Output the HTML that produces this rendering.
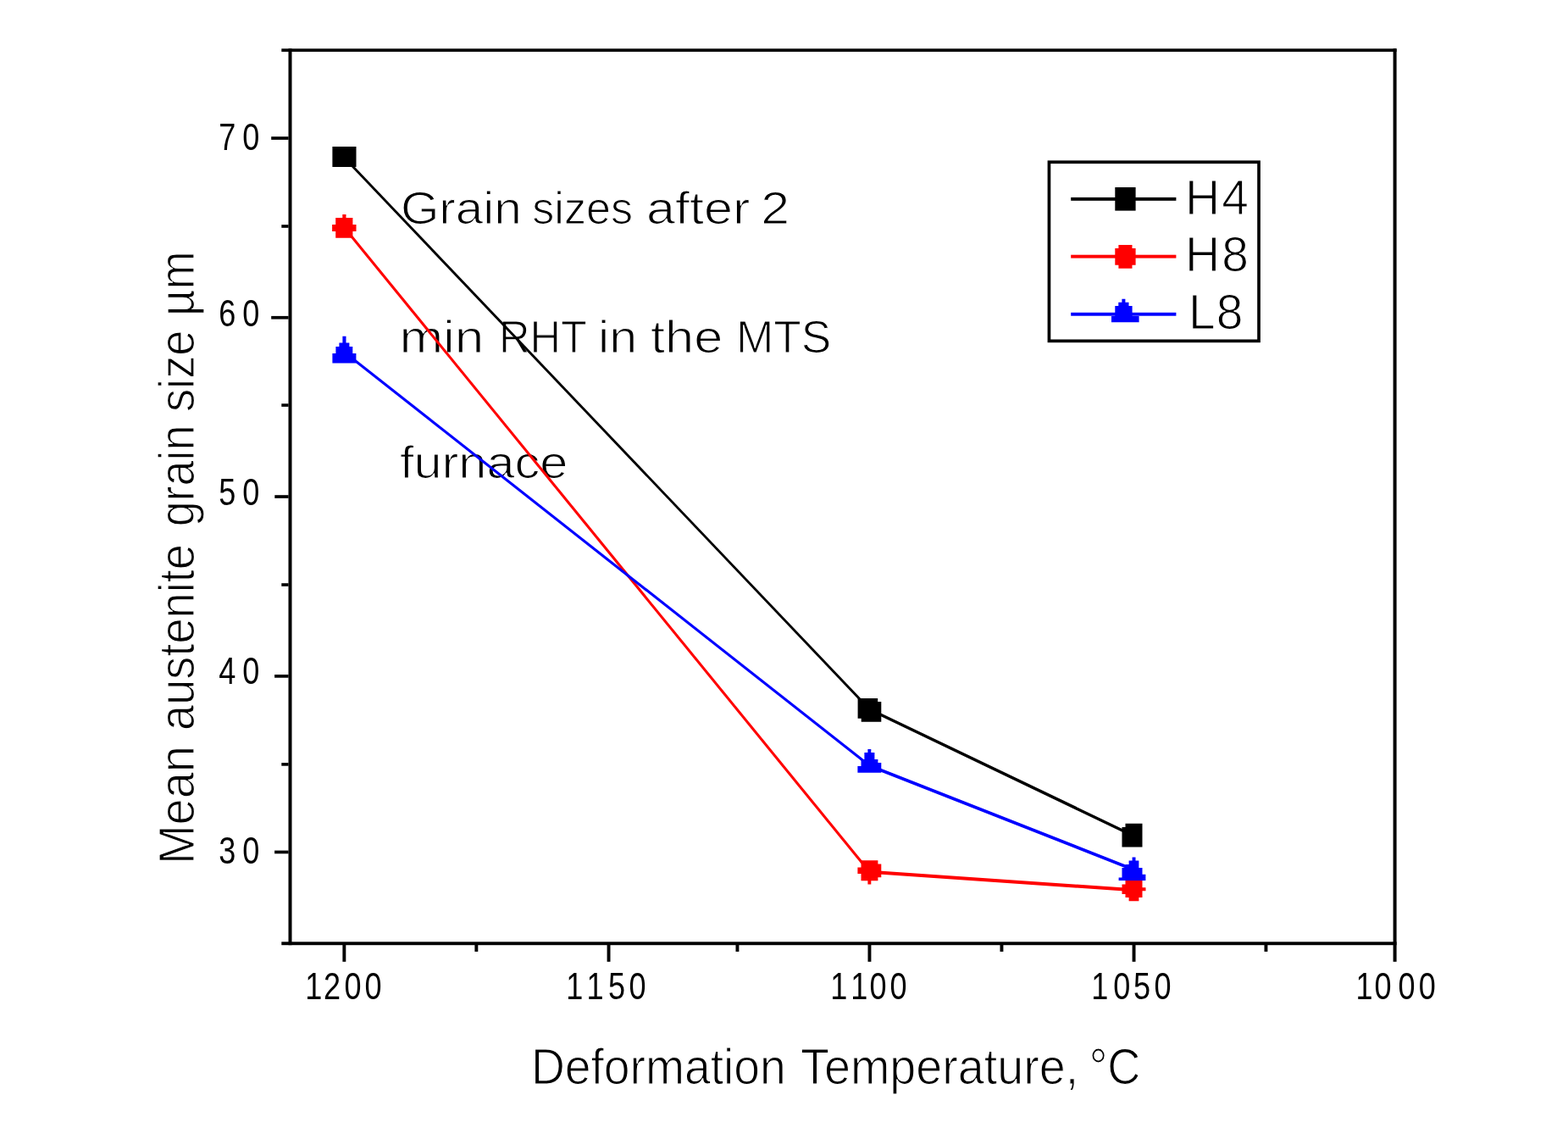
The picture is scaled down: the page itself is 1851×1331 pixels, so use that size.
<!DOCTYPE html>
<html><head><meta charset="utf-8"><title>Mean austenite grain size vs deformation temperature</title>
<style>html,body{margin:0;padding:0;background:#fff;overflow:hidden;}svg{display:block;}</style>
</head><body>
<svg width="1851" height="1331" viewBox="0 0 1851 1331" font-family='"Liberation Sans", Arial, sans-serif' fill="#000">
<rect x="340.5" y="57.4" width="4.0" height="1057.8" fill="#000"/>
<rect x="1644.6" y="57.4" width="4.0" height="1077.4" fill="#000"/>
<rect x="332.3" y="57.4" width="1316.3" height="3.7" fill="#000"/>
<rect x="332.3" y="1111.3" width="1316.3" height="3.9" fill="#000"/>
<rect x="320.2" y="161.2" width="20.4" height="3.7" fill="#000"/>
<rect x="320.2" y="372.9" width="20.4" height="3.7" fill="#000"/>
<rect x="324.3" y="584.2" width="16.3" height="3.7" fill="#000"/>
<rect x="324.1" y="796.0" width="16.5" height="3.7" fill="#000"/>
<rect x="324.1" y="1003.6" width="16.5" height="3.7" fill="#000"/>
<rect x="332.3" y="265.2" width="8.3" height="3.6" fill="#000"/>
<rect x="332.3" y="476.3" width="8.3" height="3.6" fill="#000"/>
<rect x="332.3" y="688.2" width="8.3" height="3.6" fill="#000"/>
<rect x="332.3" y="900.1" width="8.3" height="3.6" fill="#000"/>
<rect x="404.4" y="1115.0" width="3.9" height="19.8" fill="#000"/>
<rect x="716.6" y="1115.0" width="3.9" height="19.8" fill="#000"/>
<rect x="1024.5" y="1115.0" width="3.9" height="19.8" fill="#000"/>
<rect x="1336.6" y="1115.0" width="3.9" height="19.8" fill="#000"/>
<rect x="560.4" y="1115.0" width="3.9" height="7.9" fill="#000"/>
<rect x="868.5" y="1115.0" width="3.9" height="7.9" fill="#000"/>
<rect x="1180.5" y="1115.0" width="3.9" height="7.9" fill="#000"/>
<rect x="1492.5" y="1115.0" width="3.9" height="7.9" fill="#000"/>
<g stroke="#fff" stroke-width="1.2">
<text x="472.9" y="263.5" font-size="54" textLength="142.95" lengthAdjust="spacingAndGlyphs">Grain</text>
<text x="628.3" y="263.5" font-size="54" textLength="118.69" lengthAdjust="spacingAndGlyphs">sizes</text>
<text x="762.9" y="263.5" font-size="54" textLength="122.37" lengthAdjust="spacingAndGlyphs">after</text>
<text x="898.3" y="263.5" font-size="54" textLength="33.8" lengthAdjust="spacingAndGlyphs">2</text>
<text x="471.4" y="415.5" font-size="54" textLength="99.96" lengthAdjust="spacingAndGlyphs">min</text>
<text x="589.0" y="415.5" font-size="54" textLength="103.86" lengthAdjust="spacingAndGlyphs">RHT</text>
<text x="706.1" y="415.5" font-size="54" textLength="46.0" lengthAdjust="spacingAndGlyphs">in</text>
<text x="768.1" y="415.5" font-size="54" textLength="85.19" lengthAdjust="spacingAndGlyphs">the</text>
<text x="868.9" y="415.5" font-size="54" textLength="112.42" lengthAdjust="spacingAndGlyphs">MTS</text>
<text x="471.9" y="563.8" font-size="54" textLength="198.44" lengthAdjust="spacingAndGlyphs">furnace</text>
</g>
<line x1="406.5" y1="186.0" x2="1026.5" y2="837.0" stroke="#000" stroke-width="2.86"/><line x1="1026.5" y1="837.0" x2="1336.6" y2="985.5" stroke="#000" stroke-width="3.56"/>
<line x1="406.4" y1="268.5" x2="1026.4" y2="1028.8" stroke="#f00" stroke-width="3.06"/><line x1="1026.4" y1="1028.8" x2="1338.6" y2="1050.3" stroke="#f00" stroke-width="3.94"/>
<line x1="406.4" y1="415.5" x2="1026.5" y2="903.5" stroke="#00f" stroke-width="3.10"/><line x1="1026.5" y1="903.5" x2="1336.6" y2="1025.5" stroke="#00f" stroke-width="3.68"/>
<path d="M392.4 173.1H420.5V196.9H392.4ZM1012.6 824.1H1036.2V847.7H1012.6ZM1016.7 828.1H1040.3V851.7H1016.7ZM1328.5 971.8H1348.5V999.4H1328.5ZM1324.5 975.9H1348.5V999.4H1324.5Z" fill="#000"/>
<path d="M404.3 252.9H408.5V257.1H404.3ZM396.2 257.0H416.4V265.2H396.2ZM392.1 265.1H420.5V273.0H392.1ZM396.2 272.9H416.4V280.8H396.2ZM1016.5 1015.3H1036.4V1019.6H1016.5ZM1016.5 1019.5H1040.3V1023.7H1016.5ZM1012.4 1023.6H1040.3V1031.1H1012.4ZM1016.5 1031.0H1040.3V1035.2H1016.5ZM1016.5 1035.1H1036.4V1039.2H1016.5ZM1024.4 1039.1H1028.3V1043.4H1024.4ZM1328.5 1039.1H1348.5V1043.6H1328.5ZM1324.5 1043.5H1348.5V1047.4H1324.5ZM1324.5 1047.3H1352.5V1051.3H1324.5ZM1324.5 1051.2H1348.5V1055.0H1324.5ZM1328.5 1054.9H1348.5V1058.9H1328.5ZM1332.6 1058.8H1344.4V1063.2H1332.6Z" fill="#f00"/>
<path d="M404.4 396.8H408.5V404.7H404.4ZM400.4 404.6H412.4V409.0H400.4ZM396.4 408.9H416.3V417.1H396.4ZM392.4 417.0H420.4V428.6H392.4ZM1024.4 884.0H1028.3V888.1H1024.4ZM1020.4 888.0H1032.4V896.1H1020.4ZM1016.5 896.0H1036.4V900.1H1016.5ZM1016.5 900.0H1040.3V904.2H1016.5ZM1012.4 904.1H1040.3V911.7H1012.4ZM1336.6 1011.6H1340.5V1015.7H1336.6ZM1332.6 1015.6H1344.4V1020.0H1332.6ZM1328.5 1019.9H1344.4V1024.0H1328.5ZM1324.5 1023.9H1348.5V1031.8H1324.5ZM1324.5 1031.7H1352.4V1035.5H1324.5ZM1320.6 1035.4H1352.4V1039.1H1320.6Z" fill="#00f"/>
<rect x="1238.45" y="191.25" width="247.6" height="211.1" fill="none" stroke="#000" stroke-width="3.7"/>
<rect x="1264.2" y="232.9" width="124.2" height="3.9" fill="#000"/>
<rect x="1264.2" y="300.7" width="124.2" height="3.9" fill="#f00"/>
<rect x="1264.2" y="368.8" width="124.2" height="3.9" fill="#00f"/>
<rect x="1316.3" y="221.0" width="24.3" height="27.6" fill="#000"/>
<path d="M1320.4 289.1H1336.5V293.2H1320.4ZM1316.3 293.1H1340.6V312.7H1316.3ZM1320.4 312.6H1336.5V316.8H1320.4Z" fill="#f00"/>
<path d="M1324.4 352.7H1328.4V356.8H1324.4ZM1320.3 356.7H1332.5V361.0H1320.3ZM1316.3 360.9H1336.6V373.0H1316.3ZM1312.0 372.9H1344.6V380.3H1312.0Z" fill="#00f"/>
<g stroke="#fff" stroke-width="1.2">
<text x="1399.0" y="252.5" font-size="57" letter-spacing="2">H4</text>
<text x="1399.0" y="320.3" font-size="57" letter-spacing="2">H8</text>
<text x="1403.0" y="388.3" font-size="57" letter-spacing="1">L8</text>
</g>
<text transform="scale(0.82 1)" x="327.1 361.3" y="176.7" font-size="44" text-anchor="middle">70</text>
<text transform="scale(0.82 1)" x="327.1 361.3" y="384.6" font-size="44" text-anchor="middle">60</text>
<text transform="scale(0.82 1)" x="327.1 361.3" y="596.0" font-size="44" text-anchor="middle">50</text>
<text transform="scale(0.82 1)" x="327.1 361.3" y="807.5" font-size="44" text-anchor="middle">40</text>
<text transform="scale(0.82 1)" x="327.1 361.3" y="1019.2" font-size="44" text-anchor="middle">30</text>
<text transform="scale(0.82 1)" x="451.5 478.2 507.9 537.2" y="1178.9" font-size="44" text-anchor="middle">1200</text>
<text transform="scale(0.82 1)" x="827.2 856.7 887.8 917.7" y="1178.9" font-size="44" text-anchor="middle">1150</text>
<text transform="scale(0.82 1)" x="1207.6 1236.8 1264.0 1293.3" y="1178.9" font-size="44" text-anchor="middle">1100</text>
<text transform="scale(0.82 1)" x="1583.3 1615.1 1644.1 1673.8" y="1178.9" font-size="44" text-anchor="middle">1050</text>
<text transform="scale(0.82 1)" x="1964.1 1990.9 2025.1 2054.6" y="1178.9" font-size="44" text-anchor="middle">1000</text>
<g stroke="#fff" stroke-width="1.2">
<text x="626.9" y="1278.7" font-size="59" textLength="300.94" lengthAdjust="spacingAndGlyphs">Deformation</text>
<text x="945.1" y="1278.7" font-size="59" textLength="328.24" lengthAdjust="spacingAndGlyphs">Temperature,</text>
<text x="1285.7" y="1278.7" font-size="59" textLength="60.8" lengthAdjust="spacingAndGlyphs">°C</text>
<text transform="translate(228.6 1020.04) rotate(-90)" font-size="59" textLength="140.05" lengthAdjust="spacingAndGlyphs">Mean</text>
<text transform="translate(228.6 861.94) rotate(-90)" font-size="59" textLength="219.9" lengthAdjust="spacingAndGlyphs">austenite</text>
<text transform="translate(228.6 621.33) rotate(-90)" font-size="59" textLength="119.75" lengthAdjust="spacingAndGlyphs">grain</text>
<text transform="translate(228.6 486.04) rotate(-90)" font-size="59" textLength="96.53" lengthAdjust="spacingAndGlyphs">size</text>
<text transform="translate(228.6 372.88) rotate(-90)" font-size="59" textLength="76.5" lengthAdjust="spacingAndGlyphs">µm</text>
</g>
</svg>
</body></html>
